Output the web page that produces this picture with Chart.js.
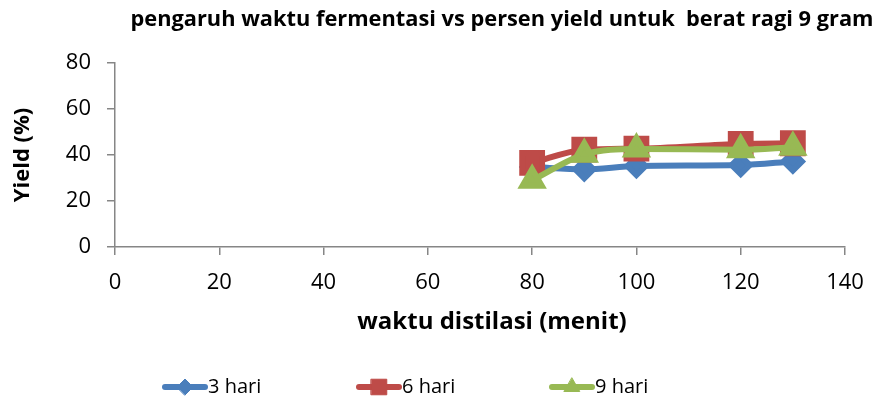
<!DOCTYPE html>
<html>
<head>
<meta charset="utf-8">
<script src="https://cdn.jsdelivr.net/npm/chart.js@4/dist/chart.umd.min.js"></script>
<style>
  html, body { margin: 0; padding: 0; background: #fff; }
  #wrap { width: 880px; height: 403px; position: relative; }
</style>
</head>
<body>
<div id="wrap"><canvas id="chart_container"></canvas></div>
<script>
// data
const waktu = [80, 90, 100, 120, 130];
const hari3 = [34.8, 33.8, 35.2, 35.6, 37.2];
const hari6 = [36.6, 42.3, 42.8, 44.8, 45.1];
const hari9 = [29.0, 40.3, 42.6, 42.3, 43.4];
const xTicks = [0, 20, 40, 60, 80, 100, 120, 140];
const yTicks = [0, 20, 40, 60, 80];
const seriesNames = ['3 hari', '6 hari', '9 hari'];

const titleText = 'pengaruh waktu fermentasi vs persen yield untuk  berat ragi 9 gram';
const xTitle = 'waktu distilasi (menit)';
const FONT = '"Open Sans", "Noto Sans", sans-serif';

function pts(ys) {
    return waktu.map(function (x, i) { return { x: x, y: ys[i] }; });
}

// titles + legend drawn on the canvas
const extras = {
    id: 'extras',
    afterDraw: function (chart) {
        const ctx = chart.ctx;
        ctx.save();
        ctx.fillStyle = '#000';
        ctx.font = 'bold 21.8px ' + FONT;
        ctx.textAlign = 'center';
        ctx.textBaseline = 'middle';
        ctx.fillText(titleText, 502, 20);

        ctx.font = 'bold 24px ' + FONT;
        ctx.fillText(xTitle, 492, 322);

        // legend: line + marker + text
        const starts = [165, 359, 552];
        const legendR = [8, 11, 9];
        ctx.font = '20px ' + FONT;
        ctx.textAlign = 'left';
        chart.data.datasets.forEach(function (ds, i) {
            const x0 = starts[i], y0 = 387;
            ctx.strokeStyle = ds.borderColor;
            ctx.lineWidth = 6;
            ctx.lineCap = 'round';
            ctx.beginPath();
            ctx.moveTo(x0, y0);
            ctx.lineTo(x0 + 40, y0);
            ctx.stroke();
            ctx.fillStyle = ds.pointBackgroundColor;
            ctx.strokeStyle = ds.pointBackgroundColor;
            ctx.lineWidth = 1;
            Chart.helpers.drawPoint(ctx, {
                pointStyle: ds.pointStyle,
                radius: legendR[i],
                rotation: 0,
                borderWidth: 1
            }, x0 + 20, y0);
            ctx.fillStyle = '#000';
            ctx.fillText(ds.label, x0 + 43, y0);
        });
        ctx.restore();
    }
};

const chartOpts = {
    type: 'line',
    data: {
        datasets: [{
            label: seriesNames[0],
            data: pts(hari3),
            order: 3,
            borderColor: '#4A7EBB',
            backgroundColor: '#4A7EBB',
            pointBackgroundColor: '#4A7EBB',
            pointBorderColor: '#4A7EBB',
            pointStyle: 'rectRot',
            pointRadius: 9,
            borderWidth: 6,
            cubicInterpolationMode: 'monotone'
        }, {
            label: seriesNames[1],
            data: pts(hari6),
            order: 2,
            borderColor: '#BE4B48',
            backgroundColor: '#BE4B48',
            pointBackgroundColor: '#BE4B48',
            pointBorderColor: '#BE4B48',
            pointStyle: 'rect',
            pointRadius: 14,
            borderWidth: 6,
            cubicInterpolationMode: 'monotone'
        }, {
            label: seriesNames[2],
            data: pts(hari9),
            order: 1,
            borderColor: '#98B954',
            backgroundColor: '#98B954',
            pointBackgroundColor: '#98B954',
            pointBorderColor: '#98B954',
            pointStyle: 'triangle',
            pointRadius: 11,
            borderWidth: 6,
            cubicInterpolationMode: 'monotone'
        }]
    },
    options: {
        responsive: true,
        maintainAspectRatio: false,
        animation: false,
        layout: { padding: { top: 63, right: 35, bottom: 65, left: 0 } },
        plugins: {
            legend: { display: false },
            title: { display: false },
            tooltip: { enabled: false }
        },
        scales: {
            x: {
                type: 'linear',
                min: 0,
                max: 140,
                afterBuildTicks: function (scale) {
                    scale.ticks = xTicks.map(function (v) { return { value: v }; });
                },
                afterFit: function (scale) { scale.height = 91; },
                border: { color: '#868686', width: 1.5 },
                grid: { drawOnChartArea: false, drawTicks: true, tickLength: 8, color: '#868686', lineWidth: 1.5 },
                ticks: { color: '#000', font: { family: FONT, size: 22 }, padding: 15, maxRotation: 0 }
            },
            y: {
                type: 'linear',
                min: 0,
                max: 80,
                afterBuildTicks: function (scale) {
                    scale.ticks = yTicks.map(function (v) { return { value: v }; });
                },
                afterFit: function (scale) { scale.width = 115; },
                border: { color: '#868686', width: 1.5 },
                grid: { drawOnChartArea: false, drawTicks: true, tickLength: 8, color: '#868686', lineWidth: 1.5 },
                ticks: { color: '#000', font: { family: FONT, size: 22 }, padding: 16 },
                title: {
                    display: true,
                    text: 'Yield (%)',
                    color: '#000',
                    font: { family: FONT, size: 22, weight: 'bold' },
                    padding: { top: 10, bottom: 0 }
                }
            }
        }
    },
    plugins: [extras]
};

new Chart(document.getElementById('chart_container'), chartOpts);
</script>
</body>
</html>
